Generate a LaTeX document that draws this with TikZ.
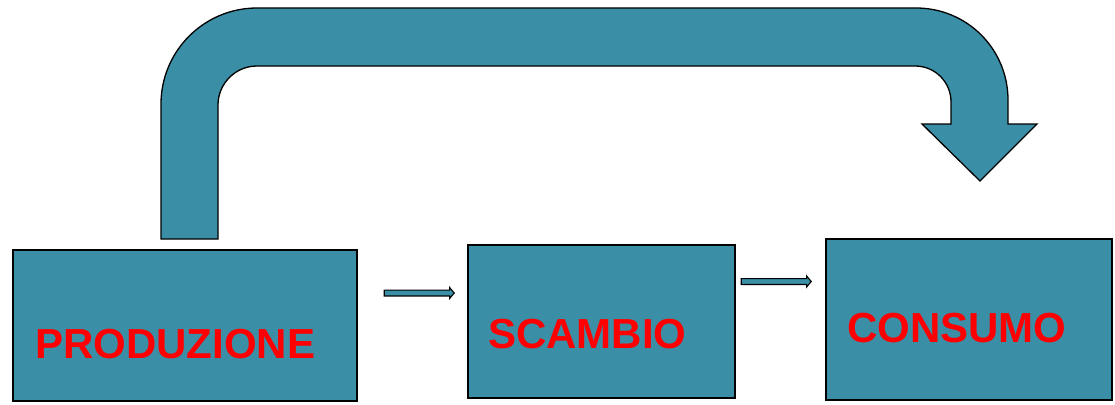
\documentclass[tikz,border=0pt]{standalone}
\usepackage{fontspec}
\setmainfont{Liberation Sans}
\usepackage{tikz}
\usetikzlibrary{shapes.arrows}
\definecolor{petrol}{RGB}{58,143,166}
\begin{document}
\begin{tikzpicture}[x=1pt,y=-1pt]

\tikzstyle{box}=[rectangle,draw=black,fill=petrol,line width=1.5pt,inner sep=0pt]
\tikzstyle{lbl}=[anchor=base west,inner sep=0pt,text=red,font=\fontsize{42}{46}\selectfont\bfseries]
\tikzstyle{flow}=[single arrow,draw=black,fill=petrol,line width=1.1pt,inner sep=2.4pt,minimum height=70pt,single arrow head extend=2.6pt,single arrow tip angle=100]
\tikzstyle{bigarrow}=[draw=black,fill=petrol,line width=1.3pt,line join=miter]

\useasboundingbox (0,0) rectangle (1115,404);

\path[bigarrow] (161,239) -- (161,104) .. controls (161,51) and (204,8) .. (257,8)
  -- (916,8) .. controls (967,8) and (1008,49) .. (1008,100)
  -- (1008,124) -- (1037,124) -- (980,181) -- (922,124) -- (951,124) -- (951,102)
  .. controls (951,82) and (935,66) .. (915,66)
  -- (257,66) .. controls (235.5,66) and (218,83.5) .. (218,105) -- (218,239) -- cycle;

\node[box,minimum width=344pt,minimum height=151pt] (prod) at (185,325.5) {};
\node[box,minimum width=267pt,minimum height=153pt] (scam) at (601.5,321.5) {};
\node[box,minimum width=286pt,minimum height=161pt] (cons) at (969,319.5) {};

\node[lbl] (prodtxt) at (35,358) {PRODUZIONE};
\node[lbl] (scamtxt) at (488,348) {SCAMBIO};
\node[lbl] (constxt) at (847,342) {CONSUMO};

\node[flow] (f1) at (418,293) {};
\node[flow] (f2) at (775,281.5) {};
\end{tikzpicture}
\end{document}
